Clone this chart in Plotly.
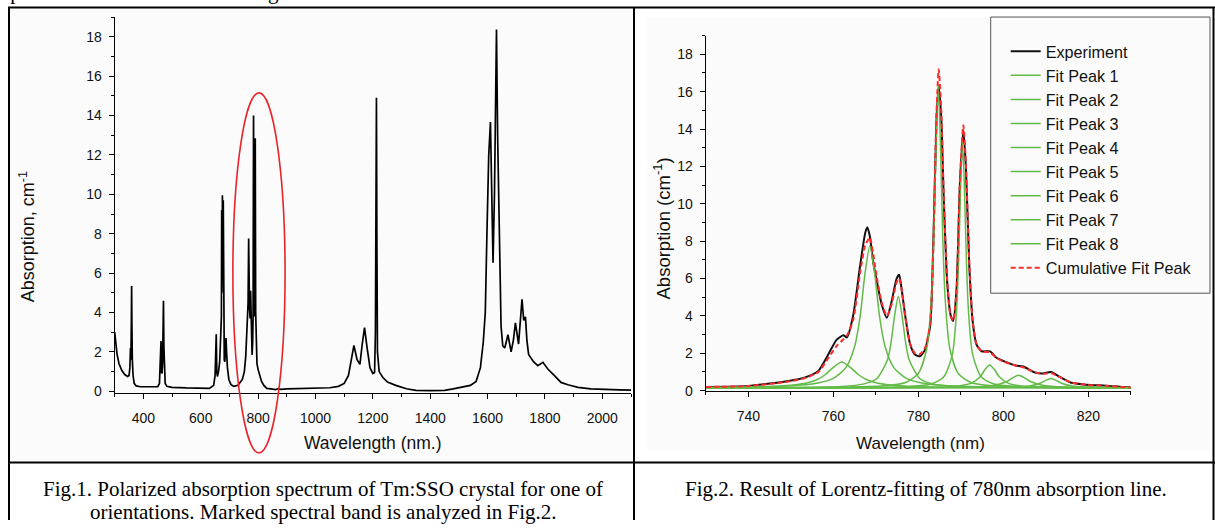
import plotly.graph_objects as go

W, H = 1215, 528

def px(x):
    return x / W

def py(y):
    return 1 - y / H

# ---------------- Fig.1 data (wide spectrum) ----------------
left_wl = [300, 304, 308, 315, 325, 335, 345, 350, 353, 355, 356.5, 358, 359, 360, 361.5, 364, 368, 375,
           390, 420, 450, 456, 458.5, 460, 461.5, 463, 465, 467, 468.5, 470, 471.5, 473, 476, 482,
           500, 550, 600, 630, 645, 650, 652, 654, 656, 658, 662, 666, 670, 672, 673, 674, 675.5, 677,
           678.5, 680, 682, 684, 686, 688, 690, 693, 698, 705, 715, 730, 745, 752, 757, 760, 763, 765,
           767, 768.5, 770, 772, 774, 775.5, 777, 779, 781, 782.5, 784, 785.5, 787, 788.5, 790, 791.5,
           793, 796, 800, 806, 812, 820, 830, 845, 860, 870, 880, 900, 950, 1000, 1050, 1080, 1100,
           1115, 1125, 1134, 1145, 1155, 1163, 1171, 1180, 1190, 1200, 1206, 1209, 1211, 1212.5, 1214,
           1216, 1222, 1235, 1251, 1280, 1317, 1350, 1400, 1450, 1480, 1507, 1540, 1560, 1575, 1585,
           1592, 1598, 1604, 1610, 1614, 1619, 1624, 1628, 1631, 1635, 1641, 1647, 1653, 1660, 1671,
           1682, 1690, 1697, 1708, 1714, 1720, 1726, 1732, 1737, 1743, 1760, 1775, 1793, 1810, 1834,
           1856, 1880, 1915, 1960, 2007, 2060, 2100]
left_abs = [3.0, 2.4, 1.9, 1.4, 1.05, 0.85, 0.75, 0.8, 1.2, 2.2, 1.6, 3.5, 5.35, 3.4, 1.6, 0.8, 0.4, 0.27,
            0.23, 0.22, 0.24, 0.4, 1.5, 2.2, 2.55, 1.0, 0.9, 1.4, 2.8, 4.6, 2.3, 0.8, 0.4, 0.25,
            0.2, 0.17, 0.14, 0.15, 0.3, 0.8, 1.8, 2.9, 1.0, 0.75, 1.0, 1.5, 3.0, 3.8, 9.2, 5.0, 9.95, 6.0,
            9.7, 4.0, 1.6, 1.5, 2.3, 2.7, 2.0, 1.2, 0.6, 0.35, 0.25, 0.3, 0.6, 1.0, 1.8, 2.8, 3.4, 4.5,
            7.75, 5.0, 4.2, 3.7, 5.1, 4.0, 2.5, 1.85, 2.5, 3.8, 14.0, 4.5, 3.8, 4.0, 12.85, 4.0,
            2.2, 1.4, 1.1, 0.8, 0.5, 0.3, 0.15, 0.12, 0.08, 0.13, 0.1, 0.12, 0.14, 0.15, 0.18, 0.25, 0.4,
            0.8, 1.6, 2.33, 1.6, 1.37, 2.4, 3.23, 2.2, 1.2, 0.9, 0.95, 3.0, 12.0, 14.9, 8.0,
            2.0, 1.0, 0.7, 0.47, 0.3, 0.13, 0.05, 0.03, 0.05, 0.12, 0.2, 0.3, 0.5, 1.2, 2.5,
            4.0, 8.2, 12.0, 13.67, 10.0, 6.53, 10.0, 16.0, 18.37, 13.0, 8.3, 3.3, 2.3, 2.2, 2.87,
            2.0, 2.6, 3.47, 2.4, 3.5, 4.67, 3.6, 3.78, 2.6, 1.87, 1.5, 1.3, 1.47, 1.13, 0.78,
            0.45, 0.33, 0.2, 0.12, 0.08, 0.07, 0.06]

# marked band (ellipse) in data units of Fig.1
band_wl = [712, 894]
band_abs = [-3.13, 15.15]

# ---------------- Fig.2 data (780 nm line) ----------------
exp_wl = [730, 740, 749.8, 753.7, 756.5, 758.4, 760.8, 762.4, 763.2, 764.7, 766.3, 767.5, 768.0, 768.6,
          769.4, 770.2, 771.4, 772.6, 773.7, 774.9, 775.5, 776.1, 776.9, 778.1, 779.2, 780.4, 781.6,
          782.8, 783.5, 784.3, 784.8, 785.4, 786.0, 786.8, 787.6, 788.2, 789.0, 789.8, 790.6, 791.2,
          792.0, 792.8, 793.7, 794.9, 796.9, 798.4, 800.1, 802.9, 804.7, 807.5, 809.3, 811.2, 813.5,
          815.8, 819.5, 824.1, 830]
exp_abs = [0.2, 0.25, 0.53, 0.74, 1.06, 1.76, 2.73, 2.96, 2.85, 4.05, 6.67, 8.43, 8.75, 8.26,
           6.85, 5.9, 4.6, 3.9, 4.75, 6.0, 6.2, 5.4, 4.05, 2.47, 1.93, 1.84, 2.2,
           3.5, 7.55, 14.6, 16.3, 14.6, 10.2, 5.8, 4.05, 3.73, 5.45, 11.1, 13.95, 11.94,
           6.68, 3.7, 2.47, 2.11, 2.1, 1.76, 1.58, 1.35, 1.29, 0.97, 0.92, 1.0, 0.71,
           0.44, 0.32, 0.27, 0.17]

cum_wl = exp_wl
cum_abs = [0.2, 0.25, 0.5, 0.7, 1.0, 1.6, 2.4, 2.75, 2.95, 3.8, 6.3, 7.8, 8.0, 8.2,
           7.3, 6.1, 4.7, 4.0, 4.6, 5.8, 6.0, 5.4, 4.0, 2.5, 2.0, 1.95, 2.3,
           3.6, 7.5, 15.0, 17.2, 15.0, 10.3, 5.9, 4.0, 3.75, 5.4, 11.3, 14.2, 12.1,
           6.8, 3.7, 2.5, 2.1, 2.05, 1.75, 1.55, 1.35, 1.25, 0.98, 0.9, 0.95, 0.7,
           0.45, 0.32, 0.26, 0.17]

peak_names = ["Fit Peak 1", "Fit Peak 2", "Fit Peak 3", "Fit Peak 4",
              "Fit Peak 5", "Fit Peak 6", "Fit Peak 7", "Fit Peak 8"]

peak1_wl = [730, 746, 750, 754, 756, 758, 760, 762, 764, 766, 768, 770, 774, 778, 786, 802, 830]
peak1_abs = [0.17, 0.23, 0.29, 0.43, 0.57, 0.84, 1.25, 1.53, 1.25, 0.84, 0.57, 0.43, 0.29, 0.23, 0.19, 0.16, 0.155]

peak2_wl = [730, 745, 755, 760, 763, 765, 766.3, 767.5, 768.6, 769.7, 770.9, 772.2, 774.2, 777.2, 782.2, 792, 810, 830]
peak2_abs = [0.177, 0.22, 0.36, 0.66, 1.25, 2.35, 3.95, 6.34, 7.75, 6.34, 3.95, 2.35, 1.25, 0.66, 0.36, 0.22, 0.17, 0.16]

peak3_wl = [730, 750, 762, 767, 770.2, 772.75, 773.6, 774.45, 775.3, 776.15, 777.0, 777.85, 780.4, 783.6, 788.6, 800, 830]
peak3_abs = [0.157, 0.17, 0.23, 0.35, 0.64, 1.65, 2.6, 4.06, 5.04, 4.06, 2.6, 1.65, 0.64, 0.35, 0.23, 0.17, 0.155]

peak4_wl = [730, 760, 772, 777, 780, 782, 783.1, 783.65, 784.2, 784.7, 785.2, 785.75, 786.3, 787.4, 789.4, 792.4, 797.4, 809.4, 830]
peak4_abs = [0.156, 0.18, 0.26, 0.44, 0.92, 2.27, 5.01, 8.23, 13.31, 16.3, 13.31, 8.23, 5.01, 2.27, 0.92, 0.44, 0.26, 0.18, 0.159]

peak5_wl = [730, 765, 778, 783, 786, 788, 788.95, 789.45, 789.95, 790.4, 790.85, 791.35, 791.85, 792.8, 794.8, 797.8, 802.8, 815.4, 830]
peak5_abs = [0.153, 0.17, 0.23, 0.36, 0.74, 1.93, 4.1, 6.73, 10.9, 13.3, 10.9, 6.73, 4.1, 1.93, 0.74, 0.36, 0.23, 0.17, 0.158]

peak6_wl = [730, 770, 782, 788, 792.4, 794.6, 795.7, 796.8, 797.9, 799.0, 801.2, 805.6, 811.6, 823.6, 830]
peak6_abs = [0.152, 0.16, 0.18, 0.22, 0.39, 0.76, 1.13, 1.37, 1.13, 0.76, 0.39, 0.22, 0.18, 0.16, 0.155]

peak7_wl = [730, 775, 787, 792.4, 798, 800.8, 802.2, 803.6, 805.0, 806.4, 809.2, 814.8, 820.2, 830]
peak7_abs = [0.15, 0.157, 0.17, 0.19, 0.29, 0.49, 0.69, 0.83, 0.69, 0.49, 0.29, 0.19, 0.17, 0.157]

peak8_wl = [730, 780, 795, 801.2, 806.2, 808.7, 809.95, 811.2, 812.45, 813.7, 816.2, 821.2, 827.4, 830]
peak8_abs = [0.15, 0.152, 0.16, 0.18, 0.25, 0.4, 0.55, 0.65, 0.55, 0.4, 0.25, 0.18, 0.16, 0.159]

peaks_wl = [peak1_wl, peak2_wl, peak3_wl, peak4_wl, peak5_wl, peak6_wl, peak7_wl, peak8_wl]
peaks_abs = [peak1_abs, peak2_abs, peak3_abs, peak4_abs, peak5_abs, peak6_abs, peak7_abs, peak8_abs]

# ---------------- styles ----------------
SANS = "Liberation Sans, Arial, sans-serif"
SERIF = "Liberation Serif, Times New Roman, serif"
GREEN = "#62bb47"
RED = "#ff2b2b"

fig = go.Figure()

fig.add_trace(go.Scatter(x=left_wl, y=left_abs, mode="lines", xaxis="x", yaxis="y",
                         line=dict(color="black", width=1.7), showlegend=False))

fig.add_trace(go.Scatter(x=exp_wl, y=exp_abs, mode="lines", xaxis="x2", yaxis="y2", name="Experiment",
                         line=dict(color="#111111", width=2, shape="spline", smoothing=0.6)))
for nm, wl, ab in zip(peak_names, peaks_wl, peaks_abs):
    fig.add_trace(go.Scatter(x=wl, y=ab, mode="lines", xaxis="x2", yaxis="y2", name=nm,
                             line=dict(color=GREEN, width=1.5, shape="spline", smoothing=0.7)))
fig.add_trace(go.Scatter(x=cum_wl, y=cum_abs, mode="lines", xaxis="x2", yaxis="y2",
                         name="Cumulative Fit Peak",
                         line=dict(color=RED, width=2, dash="5px,3px", shape="spline", smoothing=0.6)))

axis_common = dict(showline=True, linecolor="black", linewidth=1.3, ticks="outside", ticklen=5,
                   tickwidth=1.3, tickcolor="black", showgrid=False, zeroline=False,
                   tickfont=dict(family=SANS, size=14, color="#111111"))

def minor(dt):
    return dict(dtick=dt, ticks="outside", ticklen=3, tickwidth=1.3, tickcolor="black", showgrid=False)

ylo_left, yhi_left = -0.08, 19

fig.update_layout(
    width=W, height=H, margin=dict(l=0, r=0, t=0, b=0),
    paper_bgcolor="white", plot_bgcolor="rgba(0,0,0,0)",
    xaxis=dict(axis_common, domain=[px(114.7), px(631)], range=[300, 2100], tick0=0, dtick=200,
               minor=minor(100), anchor="y", ticklabelstandoff=7),
    yaxis=dict(axis_common, domain=[py(398.9), py(17.3)], range=[ylo_left, yhi_left], tick0=0, dtick=2,
               minor=minor(1), anchor="x", ticklabelstandoff=4),
    xaxis2=dict(axis_common, domain=[px(705.8), px(1130.8)], range=[730, 830], tick0=0, dtick=20,
                minor=minor(10), anchor="y2", ticklabelstandoff=7),
    yaxis2=dict(axis_common, domain=[py(396.7), py(36.1)], range=[0, 19], tick0=0, dtick=2,
                minor=minor(1), anchor="x2", ticklabelstandoff=4),
    legend=dict(x=px(1005.7), y=py(34.8), xanchor="left", yanchor="top", bgcolor="rgba(0,0,0,0)",
                borderwidth=0, font=dict(family=SANS, size=16.2, color="#111111"), tracegroupgap=0),
)

shapes = []
# faint panel backgrounds
shapes.append(dict(type="rect", xref="paper", yref="paper", x0=px(10), x1=px(632), y0=py(467), y1=py(9),
                   fillcolor="#fbfbfb", line=dict(width=0), layer="below"))
shapes.append(dict(type="rect", xref="paper", yref="paper", x0=px(647), x1=px(1210), y0=py(457), y1=py(17),
                   fillcolor="#fbfbfb", line=dict(width=0), layer="below"))
# legend frame
shapes.append(dict(type="rect", xref="paper", yref="paper", x0=px(990.7), x1=px(1210), y0=py(297.7), y1=py(17.3),
                   line=dict(color="#555555", width=1), fillcolor="rgba(0,0,0,0)", layer="above"))
# table rules
for (x0, y0, x1, y1) in [(8, 7.5, 1215, 7.5), (9, 7.5, 9, 528), (634, 7.5, 634, 528),
                         (8, 469.5, 1215, 469.5), (1213.5, 7.5, 1213.5, 528)]:
    shapes.append(dict(type="line", xref="paper", yref="paper", x0=px(x0), y0=py(y0), x1=px(x1), y1=py(y1),
                       line=dict(color="black", width=2), layer="above"))
# red ellipse marking the analysed band
def ydom(v):
    return (v - ylo_left) / (yhi_left - ylo_left)
shapes.append(dict(type="circle", xref="x", yref="y domain", x0=band_wl[0], x1=band_wl[1],
                   y0=ydom(band_abs[0]), y1=ydom(band_abs[1]), line=dict(color="#e8242a", width=1.6),
                   layer="above"))

annotations = []
def ann(text, x, y, size, family=SANS, angle=0, xanchor="center", yanchor="middle"):
    annotations.append(dict(text=text, x=px(x), y=py(y), xref="paper", yref="paper", showarrow=False,
                            textangle=angle, xanchor=xanchor, yanchor=yanchor,
                            font=dict(family=family, size=size, color="#111111" if family == SANS else "black")))

ann("Absorption, cm<sup>-1</sup>", 27, 241, 18, angle=-90)
ann("Wavelength (nm.)", 372, 450, 17.5)
ann("Absorption (cm<sup>-1</sup>)", 663, 232, 18.5, angle=-90)
ann("Wavelength (nm)", 920.8, 450, 17)
ann("Fig.1. Polarized absorption spectrum of Tm:SSO crystal for one of", 323, 496.5, 21, family=SERIF)
ann("orientations. Marked spectral band is analyzed in Fig.2.", 323, 520, 21, family=SERIF)
ann("Fig.2. Result of Lorentz-fitting of 780nm absorption line.", 926, 496.5, 21, family=SERIF)
ann("spectral band is shown in the Fig.2.", 0, 6.5, 21, family=SERIF, xanchor="left", yanchor="bottom")

fig.update_layout(shapes=shapes, annotations=annotations)

fig.write_html("out.html")
